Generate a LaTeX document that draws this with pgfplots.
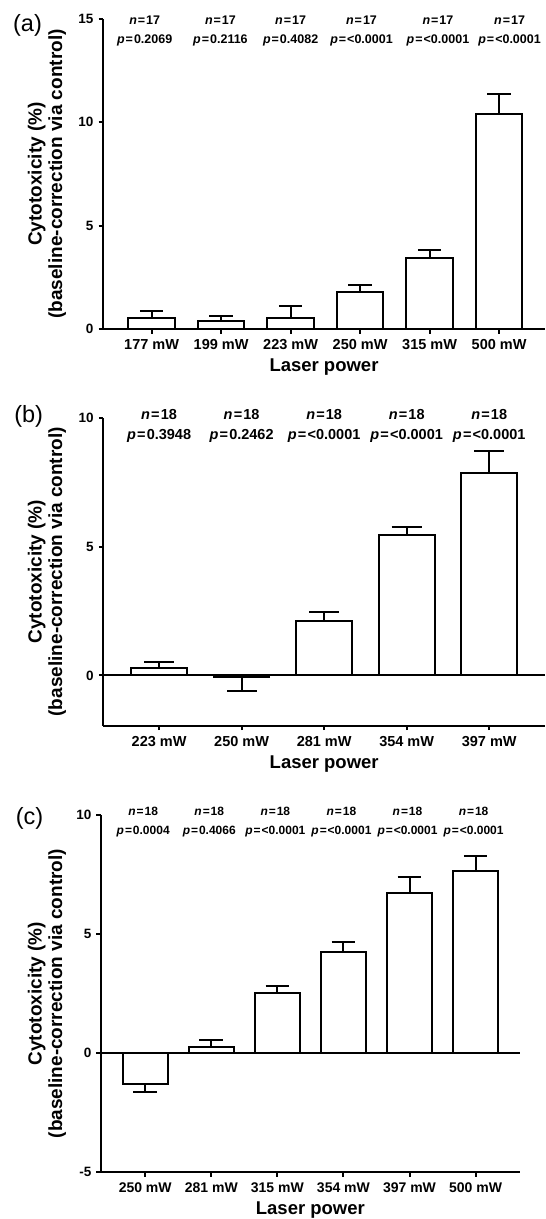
\documentclass[border=0pt]{standalone}
\usepackage{fontspec}
\setmainfont{Liberation Sans}
\usepackage{pgfplots}
\usepackage{pgfplotstable}
\pgfplotsset{compat=1.18}

\pgfplotstableread{
x y ep em
0 0.55 0.32 0
1 0.39 0.22 0
2 0.52 0.61 0
3 1.78 0.35 0
4 3.45 0.37 0
5 10.42 0.95 0
}\dataA
\pgfplotstableread{
x y ep em
0 0.27 0.26 0
1 -0.05 0 0.55
2 2.12 0.34 0
3 5.44 0.32 0
4 7.84 0.88 0
}\dataB
\pgfplotstableread{
x y ep em
0 -1.28 0 0.35
1 0.25 0.29 0
2 2.54 0.27 0
3 4.27 0.41 0
4 6.72 0.68 0
5 7.65 0.63 0
}\dataC

\newcommand{\eq}{\kern0.08em=\kern0.08em}
\pgfplotsset{
  panel/.style={
    scale only axis,
    axis x line=bottom, axis y line=left,
    axis line style={-, line width=2pt, black},
    every tick/.style={line width=2pt, black},
    major tick length=4.5pt,
    tick align=outside,
    clip=false,
    anchor=south west,
    yticklabel style={font=\bfseries\fontsize{13.5}{16}\selectfont, anchor=east, inner sep=0pt, xshift=-5pt},
    xticklabel style={font=\bfseries\fontsize{14.5}{17}\selectfont, anchor=base, inner sep=0pt, yshift=-16pt},
    xlabel style={font=\bfseries\fontsize{18.5}{22}\selectfont, at={(axis description cs:0.5,0)}, anchor=base, yshift=-42.5pt, inner sep=0pt},
    ylabel style={font=\bfseries\fontsize{19}{20.5}\selectfont, align=center, anchor=center, inner sep=0pt},
    xlabel={Laser power},
    ylabel={Cytotoxicity (\%)\\(baseline-correction via control)},
  },
  bars/.style={ybar, bar shift=0pt, bar width=#1, fill=white, draw=black, line width=2pt},
  errs/.style={error bars/.cd, y dir=both, y explicit, error bar style={line width=2pt, black}, error mark options={rotate=90, mark size=#1, line width=2pt, black}},
}
\tikzset{
  labA/.style={anchor=base, inner sep=0pt, font=\bfseries\fontsize{12.5}{14}\selectfont},
  labB/.style={anchor=base, inner sep=0pt, font=\bfseries\fontsize{14.5}{17}\selectfont},
  labC/.style={anchor=base, inner sep=0pt, font=\bfseries\fontsize{12}{15}\selectfont},
  letter/.style={inner sep=0pt, font=\fontsize{23.5}{28}\selectfont},
}

\begin{document}
\begin{tikzpicture}[x=1pt,y=1pt]
\useasboundingbox (0,0) rectangle (546,-1219);

% ---------------- (a)
\node[letter] at (27.5,-25) {(a)};
\begin{axis}[panel, at={(103pt,-329pt)}, width=442pt, height=310pt,
  xmin=-0.7, xmax=5.66, ymin=0, ymax=15,
  ytick={0,5,10,15}, yticklabels={0,5,10,15},
  xtick={0,1,2,3,4,5}, xticklabels={177 mW,199 mW,223 mW,250 mW,315 mW,500 mW},
  ylabel style={at={(axis description cs:-0.127,0.5)}}]
\addplot[bars=46.5pt, errs=11.7pt] table[x=x,y=y,y error plus=ep,y error minus=em]{\dataA};
\node[labA] at (axis cs:-0.1,14.74) {\textit{n}\eq 17};
\node[labA] at (axis cs:-0.1,13.82) {\textit{p}\eq 0.2069};
\node[labA] at (axis cs:0.99,14.74) {\textit{n}\eq 17};
\node[labA] at (axis cs:0.99,13.82) {\textit{p}\eq 0.2116};
\node[labA] at (axis cs:2.0,14.74) {\textit{n}\eq 17};
\node[labA] at (axis cs:2.0,13.82) {\textit{p}\eq 0.4082};
\node[labA] at (axis cs:3.02,14.74) {\textit{n}\eq 17};
\node[labA] at (axis cs:3.02,13.82) {\textit{p}\eq <0.0001};
\node[labA] at (axis cs:4.12,14.74) {\textit{n}\eq 17};
\node[labA] at (axis cs:4.12,13.82) {\textit{p}\eq <0.0001};
\node[labA] at (axis cs:5.15,14.74) {\textit{n}\eq 17};
\node[labA] at (axis cs:5.15,13.82) {\textit{p}\eq <0.0001};
\end{axis}

% ---------------- (b)
\node[letter] at (28.7,-416.7) {(b)};
\begin{axis}[panel, at={(103.4pt,-725.7pt)}, width=441.6pt, height=308pt,
  xmin=-0.675, xmax=4.676, ymin=-1.95, ymax=10,
  ytick={0,5,10}, yticklabels={0,5,10},
  xtick={0,1,2,3,4}, xticklabels={223 mW,250 mW,281 mW,354 mW,397 mW},
  ylabel style={at={(axis description cs:-0.128,0.5)}}]
\addplot[bars=55.7pt, errs=15pt] table[x=x,y=y,y error plus=ep,y error minus=em]{\dataB};
\addplot[black, line width=2pt, mark=none] coordinates {(-0.675,0) (4.676,0)};
\node[labB] at (axis cs:0,9.93) {\textit{n}\eq 18};
\node[labB] at (axis cs:0,9.14) {\textit{p}\eq 0.3948};
\node[labB] at (axis cs:1,9.93) {\textit{n}\eq 18};
\node[labB] at (axis cs:1,9.14) {\textit{p}\eq 0.2462};
\node[labB] at (axis cs:2,9.93) {\textit{n}\eq 18};
\node[labB] at (axis cs:2,9.14) {\textit{p}\eq <0.0001};
\node[labB] at (axis cs:3,9.93) {\textit{n}\eq 18};
\node[labB] at (axis cs:3,9.14) {\textit{p}\eq <0.0001};
\node[labB] at (axis cs:4,9.93) {\textit{n}\eq 18};
\node[labB] at (axis cs:4,9.14) {\textit{p}\eq <0.0001};
\end{axis}

% ---------------- (c)
\node[letter] at (29.6,-818) {(c)};
\begin{axis}[panel, at={(101pt,-1172.3pt)}, width=418.8pt, height=357.3pt,
  xmin=-0.669, xmax=5.669, ymin=-5, ymax=10,
  ytick={-5,0,5,10}, yticklabels={-5,0,5,10},
  xtick={0,1,2,3,4,5}, xticklabels={250 mW,281 mW,315 mW,354 mW,397 mW,500 mW},
  xticklabel style={font=\bfseries\fontsize{14}{17}\selectfont},
  ylabel style={at={(axis description cs:-0.129,0.5)}}]
\addplot[bars=44.6pt, errs=11.8pt] table[x=x,y=y,y error plus=ep,y error minus=em]{\dataC};
\addplot[black, line width=2pt, mark=none] coordinates {(-0.669,0) (5.669,0)};
\node[labC] at (axis cs:-0.03,9.97) {\textit{n}\eq 18};
\node[labC] at (axis cs:-0.03,9.18) {\textit{p}\eq 0.0004};
\node[labC] at (axis cs:0.97,9.97) {\textit{n}\eq 18};
\node[labC] at (axis cs:0.97,9.18) {\textit{p}\eq 0.4066};
\node[labC] at (axis cs:1.97,9.97) {\textit{n}\eq 18};
\node[labC] at (axis cs:1.97,9.18) {\textit{p}\eq <0.0001};
\node[labC] at (axis cs:2.97,9.97) {\textit{n}\eq 18};
\node[labC] at (axis cs:2.97,9.18) {\textit{p}\eq <0.0001};
\node[labC] at (axis cs:3.97,9.97) {\textit{n}\eq 18};
\node[labC] at (axis cs:3.97,9.18) {\textit{p}\eq <0.0001};
\node[labC] at (axis cs:4.97,9.97) {\textit{n}\eq 18};
\node[labC] at (axis cs:4.97,9.18) {\textit{p}\eq <0.0001};
\end{axis}
\end{tikzpicture}
\end{document}
